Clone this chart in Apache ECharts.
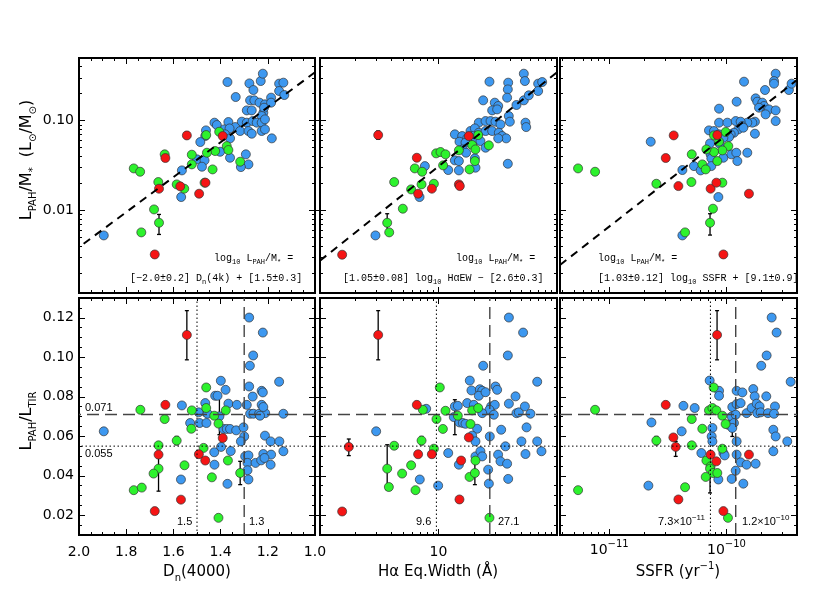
<!DOCTYPE html>
<html><head><meta charset="utf-8">
<script src="https://cdn.jsdelivr.net/npm/echarts@6/dist/echarts.min.js"></script>
<style>html,body{margin:0;padding:0;background:#fff}#c{width:817px;height:590px}</style>
</head><body><div id="c"></div>
<script>
// ---------------- DATA ----------------
// Top row y values stored as log10(L_PAH/M*); Hα EW and SSFR x values stored as log10.
// Top-left: [Dn(4000), log10 LPAH/M*]
const tlBlue = [[1.371,-0.569],[1.278,-0.584],[1.230,-0.558],[1.221,-0.476],[1.152,-0.587],[1.134,-0.576],[1.152,-0.669],[1.130,-0.714],[1.336,-0.736],[1.261,-0.658],[1.186,-0.743],[1.275,-0.773],[1.257,-0.773],[1.235,-0.799],[1.212,-0.818],[1.186,-0.799],[1.289,-0.885],[1.268,-0.885],[1.219,-0.911],[1.216,-0.855],[1.226,-0.948],[1.426,-1.022],[1.416,-1.048],[1.367,-1.015],[1.338,-1.071],[1.310,-1.011],[1.289,-1.022],[1.264,-1.004],[1.247,-1.022],[1.226,-1.022],[1.212,-0.985],[1.385,-1.097],[1.362,-1.086],[1.317,-1.115],[1.282,-1.115],[1.268,-1.145],[1.226,-1.115],[1.212,-1.097],[1.183,-1.197],[1.462,-1.108],[1.465,-1.171],[1.381,-1.152],[1.360,-1.197],[1.486,-1.238],[1.402,-1.346],[1.360,-1.413],[1.293,-1.375],[1.282,-1.487],[1.314,-1.517],[1.500,-1.431],[1.468,-1.442],[1.479,-1.513],[1.564,-1.554],[1.567,-1.851],[1.895,-2.279]];
const tlGreen = [[1.406,-1.123],[1.461,-1.160],[1.374,-1.283],[1.367,-1.327],[1.423,-1.338],[1.458,-1.357],[1.522,-1.379],[1.522,-1.487],[1.434,-1.543],[1.317,-1.457],[1.637,-1.375],[1.768,-1.532],[1.741,-1.569],[1.664,-1.684],[1.586,-1.710],[1.554,-1.758],[1.468,-1.691],[1.682,-1.989],[1.661,-2.138],[1.736,-2.245]];
const tlRed = [[1.543,-1.164],[1.391,-1.171],[1.634,-1.416],[1.661,-1.758],[1.571,-1.732],[1.491,-1.814],[1.464,-1.691],[1.679,-2.491]];
const tlErr = [[1.661,-2.268,-2.045],[1.543,-1.201,-1.126]];

// Top-middle: [log10 HαEW, log10 LPAH/M*]
const tmBlue = [[1.430,-0.565],[1.588,-0.576],[1.585,-0.651],[1.720,-0.476],[1.729,-0.558],[1.841,-0.587],[1.875,-0.569],[1.841,-0.669],[1.377,-0.773],[1.475,-0.799],[1.579,-0.743],[1.504,-0.836],[1.453,-0.885],[1.495,-0.874],[1.658,-0.825],[1.720,-0.773],[1.762,-0.717],[1.593,-0.948],[1.602,-1.011],[1.734,-1.022],[1.740,-1.071],[1.340,-1.022],[1.397,-1.004],[1.439,-1.004],[1.481,-1.011],[1.523,-1.041],[1.270,-1.115],[1.307,-1.086],[1.340,-1.134],[1.284,-1.171],[1.318,-1.208],[1.397,-1.115],[1.453,-1.115],[1.509,-1.134],[1.537,-1.171],[1.571,-1.197],[1.504,-1.197],[1.138,-1.152],[1.200,-1.171],[1.242,-1.197],[1.177,-1.234],[1.228,-1.245],[1.354,-1.227],[1.397,-1.301],[1.205,-1.320],[1.233,-1.357],[1.138,-1.442],[1.172,-1.450],[1.082,-1.550],[1.172,-1.554],[1.307,-1.420],[1.312,-1.524],[1.585,-1.480],[0.885,-1.506],[0.840,-1.851],[0.468,-2.279]];
const tmGreen = [[0.980,-1.364],[1.017,-1.349],[1.059,-1.375],[1.172,-1.331],[1.284,-1.271],[1.335,-1.160],[1.312,-1.320],[1.307,-1.450],[1.262,-1.543],[1.425,-1.275],[1.039,-1.498],[0.800,-1.532],[0.862,-1.569],[0.626,-1.684],[0.769,-1.766],[0.857,-1.710],[0.961,-1.703],[0.699,-1.981],[0.567,-2.138],[0.584,-2.245]];
const tmRed = [[0.491,-1.160],[1.256,-1.171],[0.817,-1.413],[0.944,-1.758],[0.828,-1.814],[1.172,-1.710],[1.180,-1.729],[0.187,-2.494]];
const tmErr = [[0.491,-1.208,-1.115],[0.567,-2.249,-2.037]];

// Top-right: [log10 SSFR, log10 LPAH/M*]
const trBlue = [[-9.850,-0.565],[-9.671,-0.658],[-9.580,-0.476],[-9.594,-0.558],[-9.594,-0.587],[-9.467,-0.658],[-9.444,-0.587],[-9.913,-0.788],[-10.063,-0.866],[-9.751,-0.751],[-9.737,-0.788],[-9.694,-0.799],[-9.680,-0.836],[-9.722,-0.855],[-9.637,-0.874],[-9.580,-0.885],[-9.666,-0.929],[-9.580,-1.004],[-9.757,-1.011],[-9.779,-1.022],[-9.822,-1.022],[-10.063,-1.022],[-9.992,-1.022],[-9.921,-1.004],[-9.879,-1.011],[-9.865,-1.059],[-9.899,-1.097],[-9.936,-1.134],[-9.964,-1.152],[-9.978,-1.182],[-9.856,-1.078],[-10.149,-1.108],[-10.106,-1.115],[-10.063,-1.152],[-10.140,-1.253],[-10.058,-1.257],[-10.026,-1.190],[-9.757,-1.145],[-10.646,-1.234],[-10.135,-1.375],[-10.129,-1.420],[-10.129,-1.506],[-10.026,-1.413],[-9.958,-1.375],[-9.916,-1.357],[-9.822,-1.357],[-9.907,-1.450],[-10.277,-1.506],[-10.376,-1.550],[-10.220,-1.554],[-10.069,-1.851],[-10.376,-2.279]];
const trGreen = [[-10.106,-1.164],[-10.007,-1.126],[-10.063,-1.234],[-9.984,-1.283],[-10.035,-1.331],[-10.106,-1.349],[-10.078,-1.450],[-10.171,-1.320],[-10.296,-1.375],[-10.206,-1.487],[-10.177,-1.543],[-11.266,-1.532],[-11.121,-1.569],[-10.598,-1.703],[-10.299,-1.684],[-10.035,-1.691],[-10.115,-1.981],[-10.140,-2.138],[-10.353,-2.245]];
const trRed = [[-10.450,-1.164],[-10.078,-1.160],[-10.518,-1.416],[-10.410,-1.729],[-10.135,-1.758],[-10.086,-1.691],[-9.808,-1.814],[-10.026,-2.491]];
const trErr = [[-10.140,-2.275,-2.037]];

// Bottom-left: [Dn(4000), LPAH/LTIR]
const blBlue = [[1.279,0.1201],[1.221,0.1125],[1.262,0.1009],[1.276,0.0957],[1.152,0.0876],[1.399,0.0881],[1.379,0.0835],[1.423,0.0805],[1.413,0.0805],[1.367,0.0765],[1.331,0.0759],[1.289,0.0759],[1.279,0.0852],[1.264,0.0801],[1.226,0.0830],[1.221,0.0822],[1.465,0.0768],[1.462,0.0721],[1.493,0.0721],[1.455,0.0714],[1.405,0.0701],[1.564,0.0756],[1.275,0.0714],[1.261,0.0714],[1.237,0.0714],[1.211,0.0717],[1.226,0.0759],[1.219,0.0748],[1.233,0.0704],[1.134,0.0714],[1.529,0.0667],[1.489,0.0667],[1.460,0.0667],[1.388,0.0637],[1.374,0.0637],[1.360,0.0637],[1.334,0.0630],[1.303,0.0645],[1.300,0.0599],[1.895,0.0625],[1.314,0.0574],[1.212,0.0603],[1.188,0.0574],[1.151,0.0574],[1.398,0.0546],[1.427,0.0519],[1.357,0.0525],[1.296,0.0498],[1.282,0.0503],[1.219,0.0510],[1.186,0.0507],[1.134,0.0524],[1.286,0.0465],[1.252,0.0465],[1.228,0.0478],[1.214,0.0490],[1.426,0.0456],[1.188,0.0456],[1.286,0.0428],[1.282,0.0381],[1.568,0.0381],[1.371,0.0359]];
const blGreen = [[1.461,0.0847],[1.740,0.0734],[1.522,0.0731],[1.461,0.0743],[1.427,0.0704],[1.378,0.0731],[1.637,0.0687],[1.409,0.0664],[1.524,0.0638],[1.663,0.0554],[1.586,0.0578],[1.472,0.0541],[1.369,0.0477],[1.553,0.0453],[1.663,0.0436],[1.684,0.0411],[1.317,0.0414],[1.437,0.0392],[1.768,0.0327],[1.734,0.0340],[1.409,0.0187]];
const blRed = [[1.543,0.1113],[1.634,0.0759],[1.391,0.0591],[1.663,0.0507],[1.492,0.0509],[1.465,0.0477],[1.568,0.0279],[1.679,0.0221]];
const blErr = [[1.543,0.0987,0.1236],[1.405,0.0608,0.0802],[1.663,0.0322,0.0490],[1.317,0.0355,0.0473],[1.586,0.0557,0.0599],[1.134,0.0700,0.0728]];

// Bottom-middle: [log10 HαEW, LPAH/LTIR]
const bmBlue = [[1.594,0.1201],[1.714,0.1125],[1.585,0.1009],[1.377,0.0957],[1.833,0.0876],[1.264,0.0882],[1.278,0.0832],[1.349,0.0838],[1.369,0.0830],[1.340,0.0805],[1.397,0.0823],[1.481,0.0852],[1.495,0.0835],[1.650,0.0802],[0.896,0.0739],[1.138,0.0751],[1.163,0.0754],[1.242,0.0768],[1.298,0.0759],[1.444,0.0751],[1.475,0.0759],[1.430,0.0734],[1.467,0.0709],[1.594,0.0765],[1.658,0.0717],[1.678,0.0721],[1.729,0.0751],[1.776,0.0714],[1.129,0.0697],[1.177,0.0670],[1.205,0.0667],[1.228,0.0663],[1.326,0.0638],[1.529,0.0633],[1.743,0.0645],[1.369,0.0717],[0.474,0.0625],[1.284,0.0603],[1.312,0.0574],[1.433,0.0599],[1.565,0.0549],[1.700,0.0574],[1.833,0.0574],[1.869,0.0524],[1.734,0.0510],[1.082,0.0515],[1.312,0.0498],[1.354,0.0524],[1.369,0.0498],[1.503,0.0507],[1.523,0.0473],[1.579,0.0461],[1.172,0.0456],[1.419,0.0431],[0.842,0.0381],[0.997,0.0350],[1.425,0.0360],[1.588,0.0384]];
const bmGreen = [[1.011,0.0847],[1.059,0.0729],[0.868,0.0734],[0.983,0.0687],[1.163,0.0704],[1.270,0.0662],[1.284,0.0731],[1.335,0.0743],[1.037,0.0637],[0.626,0.0552],[0.857,0.0578],[0.961,0.0537],[1.312,0.0477],[0.769,0.0453],[0.693,0.0411],[0.567,0.0436],[0.581,0.0343],[0.806,0.0327],[1.262,0.0394],[1.307,0.0414],[1.430,0.0187]];
const bmRed = [[0.491,0.1113],[0.817,0.0759],[1.256,0.0594],[0.243,0.0546],[0.828,0.0509],[0.944,0.0509],[1.191,0.0477],[1.177,0.0280],[0.187,0.0219]];
const bmErr = [[0.491,0.0987,0.1236],[0.243,0.0502,0.0586],[0.567,0.0330,0.0557],[1.307,0.0355,0.0473],[1.138,0.0608,0.0785],[0.857,0.0557,0.0599]];

// Bottom-right: [log10 SSFR, LPAH/LTIR]
const brBlue = [[-9.614,0.1201],[-9.572,0.1125],[-9.657,0.1009],[-9.703,0.0957],[-9.452,0.0876],[-10.143,0.0882],[-10.063,0.0830],[-10.063,0.0805],[-9.913,0.0830],[-9.864,0.0822],[-9.771,0.0839],[-9.759,0.0802],[-9.660,0.0802],[-10.367,0.0754],[-10.271,0.0743],[-9.950,0.0748],[-9.913,0.0763],[-9.879,0.0768],[-9.828,0.0717],[-9.785,0.0743],[-9.742,0.0765],[-9.717,0.0751],[-9.737,0.0717],[-9.708,0.0721],[-9.586,0.0751],[-9.646,0.0717],[-9.594,0.0714],[-9.955,0.0700],[-9.921,0.0709],[-9.984,0.0658],[-9.936,0.0667],[-10.640,0.0670],[-10.382,0.0625],[-10.120,0.0642],[-10.126,0.0599],[-10.120,0.0574],[-9.950,0.0642],[-9.600,0.0633],[-9.580,0.0599],[-9.481,0.0574],[-9.913,0.0574],[-10.214,0.0515],[-10.026,0.0515],[-10.015,0.0503],[-9.913,0.0507],[-9.879,0.0468],[-9.828,0.0456],[-9.751,0.0461],[-9.600,0.0524],[-9.921,0.0426],[-9.955,0.0384],[-9.856,0.0360],[-10.069,0.0381],[-10.666,0.0350]];
const brGreen = [[-10.109,0.0847],[-11.121,0.0734],[-10.149,0.0731],[-10.120,0.0743],[-10.086,0.0731],[-10.035,0.0704],[-10.296,0.0687],[-10.206,0.0638],[-10.007,0.0662],[-10.598,0.0578],[-10.296,0.0554],[-10.035,0.0537],[-10.171,0.0477],[-10.135,0.0448],[-10.140,0.0436],[-10.115,0.0414],[-10.078,0.0414],[-10.177,0.0394],[-10.353,0.0342],[-11.266,0.0327],[-9.987,0.0187]];
const brRed = [[-10.080,0.1113],[-10.518,0.0759],[-10.453,0.0594],[-10.433,0.0546],[-10.135,0.0507],[-10.086,0.0473],[-9.808,0.0507],[-10.410,0.0280],[-10.026,0.0221]];
const brErr = [[-10.080,0.0987,0.1236],[-10.140,0.0313,0.0498],[-10.433,0.0498,0.0574],[-10.598,0.0557,0.0599],[-9.950,0.0599,0.0751]];

// Fits: log10 LPAH/M* = slope * X + intercept  (X = Dn, log10 EW, log10 SSFR)
const fitDn = [-1.95, 1.49];
const fitEW = [1.05, -2.56];
const fitSSFR = [1.02, 9.04];

// Reference lines in bottom row
const ratioLines = [0.071, 0.055];   // dashed, dotted
const dnLines = [1.5, 1.3];          // dotted, dashed
const ewLines = [9.6, 27.1];
const ssfrLines = [7.3e-11, 1.2e-10];

// Tick values / labels
const dnTicks = [1.0, 1.2, 1.4, 1.6, 1.8, 2.0];
const ewMajorTicks = [1, 10, 100];
const ewTickLabels = [10];
const ssfrMajorTicks = [1e-11, 1e-10];
const lmMajorTicks = [0.01, 0.1];
const ratioTicks = [0.02, 0.04, 0.06, 0.08, 0.10, 0.12];

// ---------------- BUILD ----------------
const colBlue = '#3d98f0', colGreen = '#2df22d', colRed = '#f51515';
const P10 = v => Math.pow(10, v);
const ident = v => v;

function logMinors(lo, hi) {
  const out = [];
  for (let e = Math.floor(Math.log10(lo)) ; e <= Math.ceil(Math.log10(hi)); e++)
    for (let m = 2; m <= 9; m++) { const v = m * Math.pow(10, e); if (v >= lo * 0.9999 && v <= hi * 1.0001) out.push(v); }
  return out;
}
function linMinors(lo, hi, step, major) {
  const out = [];
  for (let k = Math.round(lo / step); k * step <= hi + 1e-9; k++) {
    const v = +(k * step).toFixed(5);
    if (Math.abs(v / major - Math.round(v / major)) > 1e-6) out.push(v);
  }
  return out;
}
const FONT = 'DejaVu Sans';
const specDn = {type:'value', min:1.0, max:2.0, inverse:true, major:dnTicks, minor:linMinors(1,2,0.05,0.2), labels:dnTicks, fmt:v=>v.toFixed(1), margin:8};
const specEW = {type:'log', min:1, max:100, major:ewMajorTicks, minor:logMinors(1,100), labels:ewTickLabels, fmt:v=>String(Math.round(P10(v))), margin:8};
const specSSFR = {type:'log', min:3.8e-12, max:4.0e-10, major:ssfrMajorTicks, minor:logMinors(3.8e-12,4.0e-10), labels:ssfrMajorTicks,
  fmt:v=>'10{p|\u2212' + Math.round(-v) + '}', rich:{p:{fontSize:10, verticalAlign:'top', lineHeight:10, color:'#000', fontFamily:FONT}}, lineHeight:22, margin:4};
const specLM = {type:'log', min:0.0012, max:0.5, major:lmMajorTicks, minor:logMinors(0.0012,0.5), labels:lmMajorTicks, fmt:v=>P10(v).toFixed(2), margin:5};
const specRatio = {type:'value', min:0.01, max:0.13, major:ratioTicks, minor:linMinors(0.01,0.13,0.005,0.02), labels:ratioTicks, fmt:v=>v.toFixed(2), margin:5};

const grids = [], xAxes = [], yAxes = [], series = [];
function addAxes(list, gi, spec, sides, showLabels) {
  const mainIndex = list.length;
  list.push({type:spec.type, gridIndex:gi, min:spec.min, max:spec.max, inverse:!!spec.inverse, show:false, position:sides[0]});
  const isLog = spec.type === 'log';
  const h = v => isLog ? Math.log10(v) : v;
  const hmin = h(spec.min), hmax = h(spec.max);
  sides.forEach((side, si) => {
    [[spec.major, 6, si === 0 && showLabels], [spec.minor, 3, false]].forEach(([vals, len, lab]) => {
      list.push({
        type:'value', gridIndex:gi, position:side, min:hmin, max:hmax, inverse:!!spec.inverse,
        axisLine:{show:false}, splitLine:{show:false}, axisPointer:{show:false},
        axisTick:{show:true, inside:true, length:len, customValues:vals.map(h), lineStyle:{color:'#000', width:1}},
        axisLabel: lab ? {show:true, customValues:spec.labels.map(h), formatter:v=>spec.fmt(v), margin:spec.margin,
          color:'#000', fontSize:14, fontFamily:FONT, rich:spec.rich, lineHeight:spec.lineHeight || 18} : {show:false}
      });
    });
  });
  return mainIndex;
}
function errRender(params, api) {
  const x = api.value(0);
  const p1 = api.coord([x, api.value(1)]);
  const p2 = api.coord([x, api.value(2)]);
  const st = {stroke:'#000', lineWidth:1.3};
  return {type:'group', children:[
    {type:'line', shape:{x1:p1[0], y1:p1[1], x2:p2[0], y2:p2[1]}, style:st},
    {type:'line', shape:{x1:p1[0]-2, y1:p1[1], x2:p1[0]+2, y2:p1[1]}, style:st},
    {type:'line', shape:{x1:p2[0]-2, y1:p2[1], x2:p2[0]+2, y2:p2[1]}, style:st}]};
}
function lineSeries(xi, yi, pts, style) {
  series.push({type:'line', xAxisIndex:xi, yAxisIndex:yi, data:pts, symbol:'none', silent:true, z:5,
    lineStyle:style, animation:false});
}
const cols = [{left:79, width:236, spec:specDn, X:ident}, {left:320, width:237, spec:specEW, X:P10}, {left:560, width:237, spec:specSSFR, X:P10}];
const rows = [{top:58, height:235, spec:specLM, Y:P10}, {top:298, height:237, spec:specRatio, Y:ident}];
const panels = [
  [tlBlue, tlGreen, tlRed, tlErr], [tmBlue, tmGreen, tmRed, tmErr], [trBlue, trGreen, trRed, trErr],
  [blBlue, blGreen, blRed, blErr], [bmBlue, bmGreen, bmRed, bmErr], [brBlue, brGreen, brRed, brErr]];
const fits = [fitDn, fitEW, fitSSFR];
const vLines = [dnLines, ewLines, ssfrLines];

rows.forEach((row, r) => cols.forEach((col, c) => {
  const gi = grids.length;
  grids.push({left:col.left, top:row.top, width:col.width, height:row.height, show:true, borderColor:'#000', borderWidth:2,
    backgroundColor:'rgba(0,0,0,0)', outerBoundsMode:'none'});
  const xi = addAxes(xAxes, gi, col.spec, ['bottom', 'top'], r === 1);
  const yi = addAxes(yAxes, gi, row.spec, ['left', 'right'], c === 0);
  const [blue, green, red, err] = panels[r * 3 + c];
  const X = col.X, Y = row.Y;
  series.push({type:'custom', xAxisIndex:xi, yAxisIndex:yi, renderItem:errRender, silent:true, z:2,
    data:err.map(e => [X(e[0]), Y(e[1]), Y(e[2])]), encode:{x:0, y:[1, 2]}});
  [[blue, colBlue], [green, colGreen], [red, colRed]].forEach(([d, color]) => series.push({
    type:'scatter', xAxisIndex:xi, yAxisIndex:yi, symbol:'circle', symbolSize:9, silent:true, z:3,
    data:d.map(p => [X(p[0]), Y(p[1])]),
    itemStyle:{color:color, borderColor:'#333', borderWidth:0.7, opacity:1}}));
  const xs = col.spec;
  if (r === 0) {
    const f = fits[c];
    const toX = c === 0 ? ident : Math.log10;
    const pts = [xs.min, xs.max].map(x => [x, P10(f[0] * toX(x) + f[1])]);
    lineSeries(xi, yi, pts, {color:'#000', width:2, type:[8, 6]});
  } else {
    const dashed = {color:'#444', width:1.4, type:[12, 6]};
    const dotted = {color:'#000', width:1, type:[1.5, 2.5]};
    lineSeries(xi, yi, [[xs.min, ratioLines[0]], [xs.max, ratioLines[0]]], dashed);
    lineSeries(xi, yi, [[xs.min, ratioLines[1]], [xs.max, ratioLines[1]]], dotted);
    const v = vLines[c];
    lineSeries(xi, yi, [[v[0], 0.01], [v[0], 0.13]], dotted);
    lineSeries(xi, yi, [[v[1], 0.01], [v[1], 0.13]], dashed);
  }
}));

const annRich = {s:{fontSize:7, lineHeight:8, verticalAlign:'bottom', fontFamily:'Liberation Mono', fill:'#000'}};
function annot(x, y, text) {
  return {type:'text', x:x, y:y, silent:true, z:100, style:{text:text, fill:'#000', font:'10px "Liberation Mono"',
    align:'left', verticalAlign:'middle', lineHeight:16, rich:annRich}};
}
const smallRich = {p:{fontSize:8, lineHeight:8, verticalAlign:'top', fontFamily:'Liberation Sans', fill:'#000'}};
function small(x, y, text) {
  return {type:'text', x:x, y:y, silent:true, z:100, style:{text:text, fill:'#000', font:'11px "Liberation Sans"',
    align:'left', verticalAlign:'middle', lineHeight:16, rich:smallRich}};
}
const tRich = {s:{fontSize:10, lineHeight:10, verticalAlign:'bottom', fontFamily:FONT, fill:'#000'},
               p:{fontSize:10, lineHeight:10, verticalAlign:'top', fontFamily:FONT, fill:'#000'}};
function title(x, y, text, size, rot) {
  return {type:'text', x:x, y:y, rotation:rot || 0, silent:true, z:100, style:{text:text, fill:'#000',
    font:size + 'px "' + FONT + '"', align:'center', verticalAlign:'middle', lineHeight:22, rich:tRich}};
}
const lm = 'log{s|10} L{s|PAH}/M{s|*} =';
const graphic = [
  annot(214, 258, lm), annot(130, 278, '[\u22122.0\u00b10.2] D{s|n}(4k) + [1.5\u00b10.3]'),
  annot(456, 258, lm), annot(343, 278, '[1.05\u00b10.08] log{s|10} H\u03b1EW \u2212 [2.6\u00b10.3]'),
  annot(598, 258, lm), annot(598, 278, '[1.03\u00b10.12] log{s|10} SSFR + [9.1\u00b10.9]'),
  small(85, 408, '0.071'), small(85, 454, '0.055'),
  small(177, 522, '1.5'), small(249, 522, '1.3'),
  small(416, 522, '9.6'), small(498, 522, '27.1'),
  small(658, 522, '7.3\u00d710{p|\u221211}'), small(742, 522, '1.2\u00d710{p|\u221210}'),
  title(197, 572, 'D{s|n}(4000)', 15), title(438, 572, 'H\u03b1 Eq.Width (\u00c5)', 15), title(678, 572, 'SSFR (yr{p|\u22121})', 15),
  title(27, 160, 'L{s|PAH}/M{s|*}  (L{s|\u2299}/M{s|\u2299})', 16, Math.PI / 2),
  title(27, 421, 'L{s|PAH}/L{s|TIR}', 16, Math.PI / 2)
];

const chart = echarts.init(document.getElementById('c'), null, {renderer:'canvas'});
chart.setOption({animation:false, backgroundColor:'#fff', grid:grids, xAxis:xAxes, yAxis:yAxes, series:series, graphic:graphic});
</script></body></html>
